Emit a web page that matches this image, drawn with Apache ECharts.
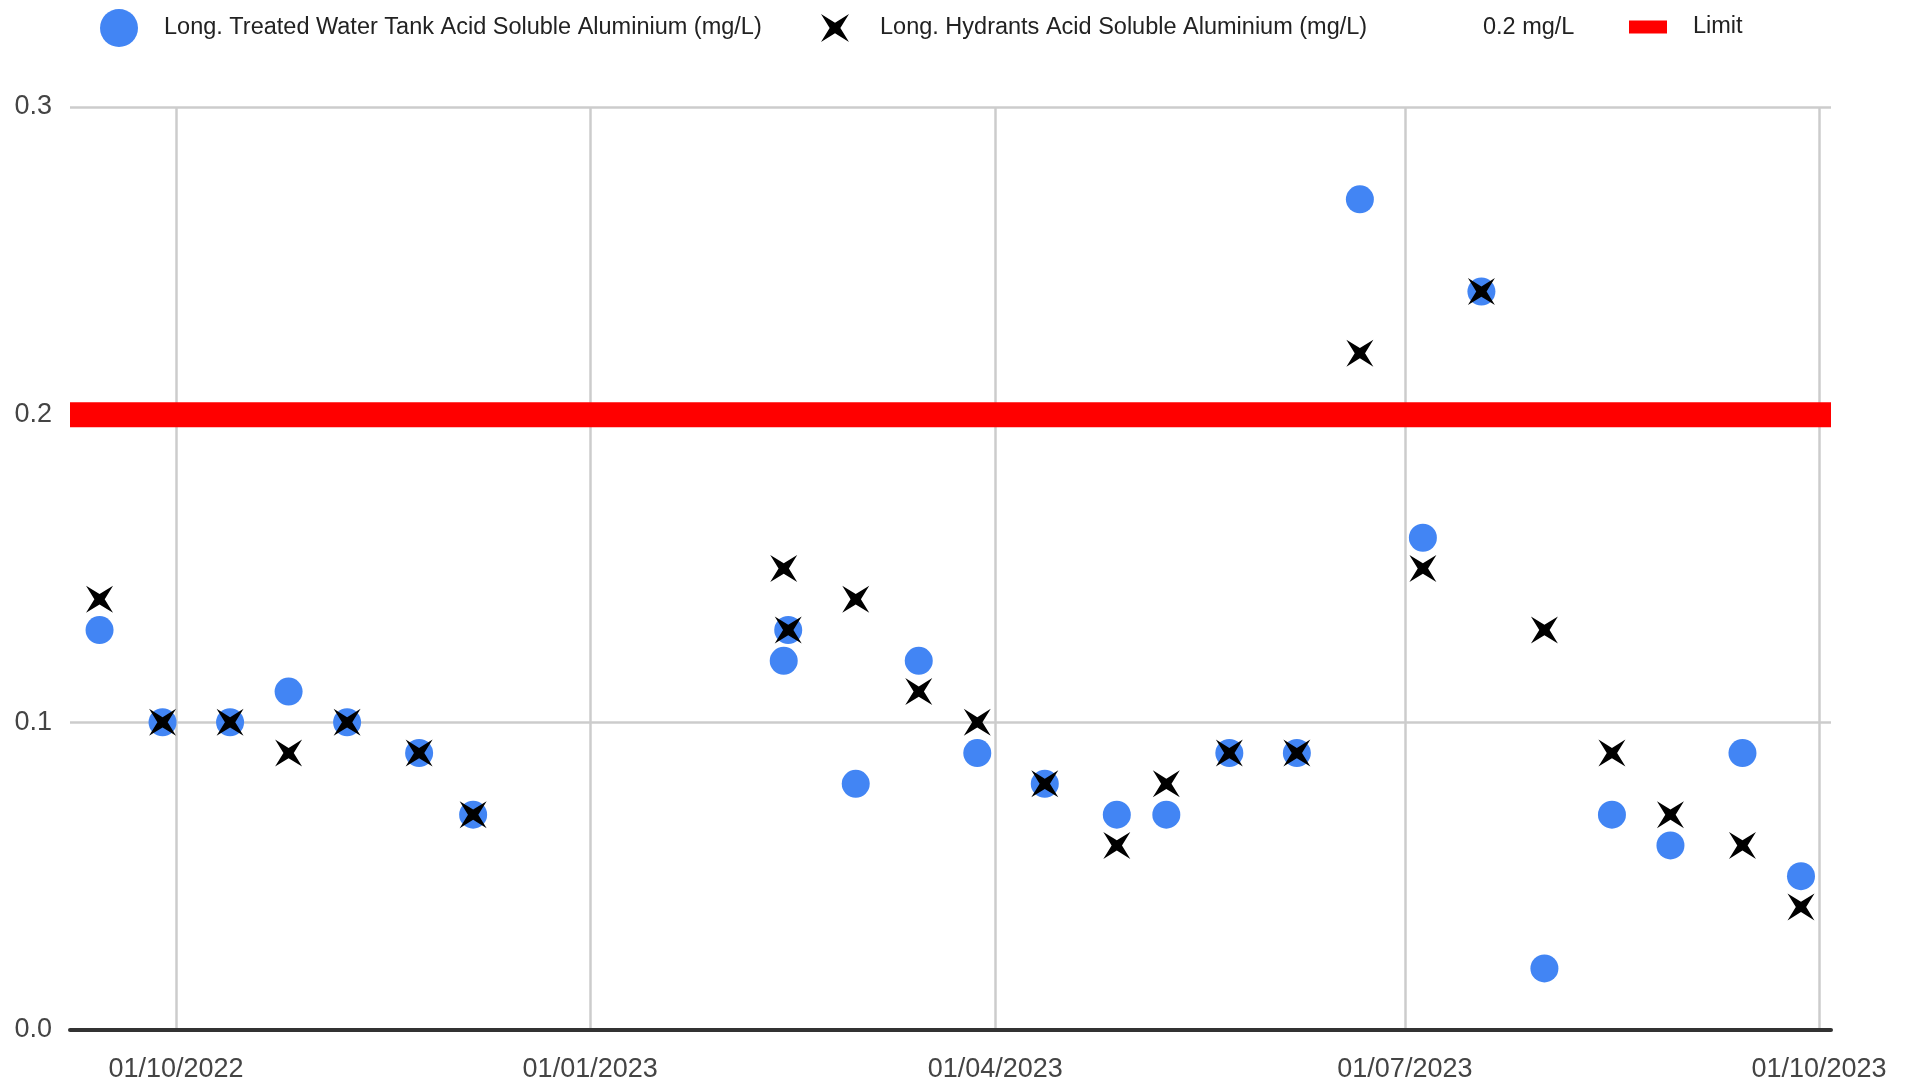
<!DOCTYPE html>
<html><head><meta charset="utf-8">
<script src="https://cdn.jsdelivr.net/npm/echarts@6/dist/echarts.min.js"></script>
<style>html,body{margin:0;padding:0;background:#fff}#c{width:1912px;height:1086px}</style>
</head><body><div id="c"></div>
<script>
// ---- data ----
const sampleDates = ['2022-09-14','2022-09-28','2022-10-13','2022-10-26','2022-11-08','2022-11-24','2022-12-06',
  '2023-02-13','2023-02-14','2023-03-01','2023-03-15','2023-03-28','2023-04-12','2023-04-28','2023-05-09',
  '2023-05-23','2023-06-07','2023-06-21','2023-07-05','2023-07-18','2023-08-01','2023-08-16','2023-08-29',
  '2023-09-14','2023-09-27'];
const tankAluminium = [0.13,0.10,0.10,0.11,0.10,0.09,0.07,
  0.12,0.13,0.08,0.12,0.09,0.08,0.07,0.07,
  0.09,0.09,0.27,0.16,0.24,0.02,0.07,0.06,
  0.09,0.05];
const hydrantAluminium = [0.14,0.10,0.10,0.09,0.10,0.09,0.07,
  0.15,0.13,0.14,0.11,0.10,0.08,0.06,0.08,
  0.09,0.09,0.22,0.15,0.24,0.13,0.09,0.07,
  0.06,0.04];
const limitValue = 0.2;
const xRange = ['2022-09-07T10:30:00Z','2023-10-03T16:00:00Z'];
const xTickDates = ['2022-10-01','2023-01-01','2023-04-01','2023-07-01','2023-10-01'];
const xTickLabels = ['01/10/2022','01/01/2023','01/04/2023','01/07/2023','01/10/2023'];
const yMin = 0, yMax = 0.3, yStep = 0.1;
const seriesNames = ['Long. Treated Water Tank Acid Soluble Aluminium (mg/L)',
  'Long. Hydrants Acid Soluble Aluminium (mg/L)', '0.2 mg/L', 'Limit'];

// ---- helpers ----
const ts = s => Date.parse(s.length === 10 ? s + 'T00:00:00Z' : s);
const tickTs = xTickDates.map(ts);
const xMin = ts(xRange[0]), xMax = ts(xRange[1]);
const FONT = "'Liberation Sans', Arial, sans-serif";
const xPath = 'path://M0,0 L12,7.4 L24,0 L16.6,12 L24,24 L12,16.6 L0,24 L7.4,12 Z';

const tankData = sampleDates.map((d, i) => [ts(d), tankAluminium[i]]);
const hydrantData = sampleDates.map((d, i) => [ts(d), hydrantAluminium[i]]);
const limitData = [[xMin, limitValue], [xMax, limitValue]];

const legendText = {fontSize: 23.5, color: '#222', fontFamily: FONT};
const chart = echarts.init(document.getElementById('c'), null, {renderer: 'canvas'});
chart.setOption({
  animation: false,
  backgroundColor: '#fff',
  grid: {left: 70, right: 81, top: 107, bottom: 56},
  legend: [
    {data: [seriesNames[0]], left: 100, top: 9, padding: 0, itemWidth: 38, itemHeight: 38, icon: 'circle', selectedMode: false,
      textStyle: Object.assign({padding: [4,0,0,21]}, legendText)},
    {data: [seriesNames[1]], left: 821, top: 14, padding: 0, itemWidth: 28, itemHeight: 28, icon: xPath, selectedMode: false,
      textStyle: Object.assign({padding: [4,0,0,26]}, legendText)},
    {data: [{name: seriesNames[2], icon: 'rect', itemStyle: {opacity: 0}}], left: 1440, top: 9, padding: 0, itemWidth: 38, itemHeight: 38, selectedMode: false,
      textStyle: Object.assign({padding: [4,0,0,0]}, legendText)},
    {data: [seriesNames[3]], left: 1629, top: 15, padding: 0, itemWidth: 38, itemHeight: 13, icon: 'rect', selectedMode: false,
      textStyle: Object.assign({padding: [4,0,0,21]}, legendText)}
  ],
  xAxis: {
    type: 'value', min: xMin, max: xMax,
    axisLine: {show: true, onZero: false, lineStyle: {color: '#333', width: 4}},
    axisTick: {show: false, customValues: tickTs},
    axisLabel: {customValues: tickTs, formatter: v => xTickLabels[tickTs.indexOf(v)],
      fontSize: 27, color: '#444', margin: 26, fontFamily: FONT},
    splitLine: {show: true, lineStyle: {color: '#ccc', width: 2.5}}
  },
  yAxis: {
    type: 'value', min: yMin, max: yMax, interval: yStep,
    axisLine: {show: false}, axisTick: {show: false},
    axisLabel: {formatter: v => v.toFixed(1), fontSize: 27, color: '#444', margin: 18, fontFamily: FONT},
    splitLine: {show: true, lineStyle: {color: '#ccc', width: 2.5}}
  },
  series: [
    {name: seriesNames[3], type: 'line', data: limitData, symbol: 'none', silent: true,
      lineStyle: {color: '#ff0000', width: 25, cap: 'butt'}, itemStyle: {color: '#ff0000'}, z: 2},
    {name: seriesNames[2], type: 'line', data: [], symbol: 'none', itemStyle: {color: 'transparent'}, lineStyle: {width: 0}},
    {name: seriesNames[0], type: 'scatter', data: tankData, symbol: 'circle', symbolSize: 28,
      itemStyle: {color: '#4285F4', opacity: 1}, z: 3},
    {name: seriesNames[1], type: 'scatter', data: hydrantData, symbol: xPath, symbolSize: 27, symbolKeepAspect: true,
      itemStyle: {color: '#000', opacity: 1}, z: 4}
  ]
});
</script></body></html>
